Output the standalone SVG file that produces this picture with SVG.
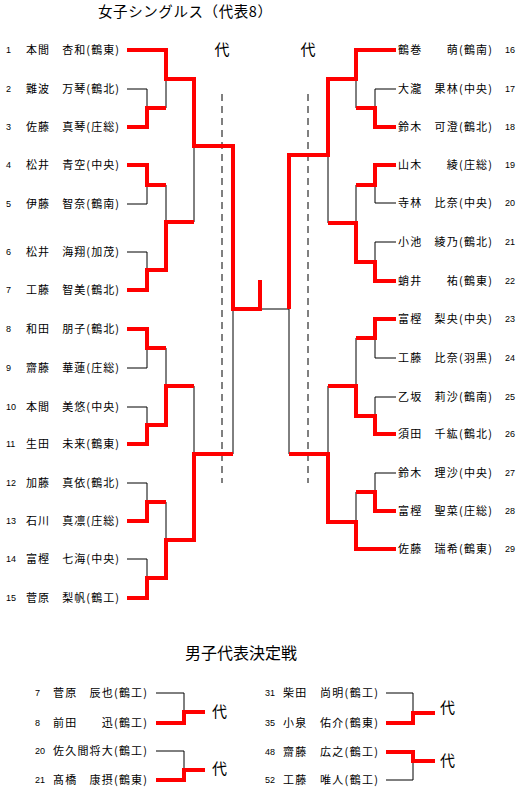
<svg xmlns="http://www.w3.org/2000/svg" width="522" height="796" viewBox="0 0 522 796">
<style>
.bg{fill:#ffffff}
.nm{font-family:"Noto Sans CJK JP","Noto Sans CJK SC",sans-serif;font-size:11px;fill:#000}
.no{font-family:"Liberation Sans",Arial,sans-serif;font-size:9px;fill:#000}
.ttl{font-family:"Noto Sans CJK JP","Noto Sans CJK SC",sans-serif;font-size:14.5px;fill:#000}
.ttl2{font-family:"Noto Sans CJK JP","Noto Sans CJK SC",sans-serif;font-size:16px;fill:#000}
.dai{font-family:"Noto Sans CJK JP","Noto Sans CJK SC",sans-serif;font-size:15px;fill:#000}
.r{fill:none;stroke:#ff0000;stroke-width:4;stroke-linejoin:miter;stroke-linecap:butt}
.k{fill:none;stroke:#000;stroke-width:1}
.d{fill:none;stroke:#000;stroke-width:1;stroke-dasharray:7 5}
</style>
<rect class="bg" x="0" y="0" width="522" height="796"/>
<text class="ttl" x="98" y="17" textLength="174" lengthAdjust="spacing">女子シングルス（代表8）</text>
<text class="dai" x="214.5" y="54.5">代</text>
<text class="dai" x="300.5" y="54.5">代</text>

<g id="connectors">
  <path class="d" d="M222,94 V483 M308,94 V483"/>
  <path class="k" d="M127,89 H147 V108 M127,204 H147 V185 M127,252 H147 V270 M127,368 H147 V348 M127,407 H147 V425 M127,483 H147 V502 M127,559 H147 V578 M166,79 V108 M166,185 V222 M166,348 V386 M166,502 V540 M194,146 V222 M194,386 V454 M233,309 V454 M260,309 H289"/>
  <path class="k" d="M396,89 H375 V108 M396,203 H375 V185 M396,242 H375 V262 M396,358 H375 V338 M396,397 H375 V416 M396,473 H375 V492 M356,79 V108 M356,185 V223 M356,338 V386 M356,492 V522 M328,155 V223 M328,386 V454 M289,309 V454"/>
  <path class="r" d="M127,50 H166 V79 H194 V146 H233 V309 H260 V280"/>
  <path class="r" d="M127,127 H147 V108 H166"/>
  <path class="r" d="M127,165 H147 V185 H166"/>
  <path class="r" d="M127,290 H147 V270 H166 V222 H194"/>
  <path class="r" d="M127,329 H147 V348 H166"/>
  <path class="r" d="M127,444 H147 V425 H166 V386 H194"/>
  <path class="r" d="M127,521 H147 V502 H166"/>
  <path class="r" d="M127,598 H147 V578 H166 V540 H194 V454 H233"/>
  <path class="r" d="M396,50 H356 V79 H328 V155 H289 V309"/>
  <path class="r" d="M396,127 H375 V108 H356"/>
  <path class="r" d="M396,165 H375 V185 H356"/>
  <path class="r" d="M396,281 H375 V262 H356 V223 H328"/>
  <path class="r" d="M396,319 H375 V338 H356"/>
  <path class="r" d="M396,434 H375 V416 H356 V386 H328"/>
  <path class="r" d="M396,511 H375 V492 H356"/>
  <path class="r" d="M396,549 H356 V522 H328 V454 H289"/>
  <path class="k" d="M156,693 H184 V712 M156,751 H184 V770 M386,693 H413 V713 M386,780 H413 V761"/>
  <path class="r" d="M156,723 H184 V712 H205"/>
  <path class="r" d="M156,780 H184 V770 H205"/>
  <path class="r" d="M386,723 H413 V713 H435"/>
  <path class="r" d="M386,752 H413 V761 H435"/>
</g>

<g id="p1"><text class="no" x="6" y="53">1</text><text class="nm" x="26" y="54" textLength="93" lengthAdjust="spacing">本間　杏和(鶴東)</text></g>
<g id="p2"><text class="no" x="6" y="92">2</text><text class="nm" x="26" y="93" textLength="93" lengthAdjust="spacing">難波　万琴(鶴北)</text></g>
<g id="p3"><text class="no" x="6" y="130">3</text><text class="nm" x="26" y="131" textLength="93" lengthAdjust="spacing">佐藤　真琴(庄総)</text></g>
<g id="p4"><text class="no" x="6" y="168">4</text><text class="nm" x="26" y="169" textLength="93" lengthAdjust="spacing">松井　青空(中央)</text></g>
<g id="p5"><text class="no" x="6" y="207">5</text><text class="nm" x="26" y="208" textLength="93" lengthAdjust="spacing">伊藤　智奈(鶴南)</text></g>
<g id="p6"><text class="no" x="6" y="255">6</text><text class="nm" x="26" y="256" textLength="93" lengthAdjust="spacing">松井　海翔(加茂)</text></g>
<g id="p7"><text class="no" x="6" y="293">7</text><text class="nm" x="26" y="294" textLength="93" lengthAdjust="spacing">工藤　智美(鶴北)</text></g>
<g id="p8"><text class="no" x="6" y="332">8</text><text class="nm" x="26" y="333" textLength="93" lengthAdjust="spacing">和田　朋子(鶴北)</text></g>
<g id="p9"><text class="no" x="6" y="371">9</text><text class="nm" x="26" y="372" textLength="93" lengthAdjust="spacing">齋藤　華蓮(庄総)</text></g>
<g id="p10"><text class="no" x="6" y="410">10</text><text class="nm" x="26" y="411" textLength="93" lengthAdjust="spacing">本間　美悠(中央)</text></g>
<g id="p11"><text class="no" x="6" y="447">11</text><text class="nm" x="26" y="448" textLength="93" lengthAdjust="spacing">生田　未来(鶴東)</text></g>
<g id="p12"><text class="no" x="6" y="486">12</text><text class="nm" x="26" y="487" textLength="93" lengthAdjust="spacing">加藤　真依(鶴北)</text></g>
<g id="p13"><text class="no" x="6" y="524">13</text><text class="nm" x="26" y="525" textLength="93" lengthAdjust="spacing">石川　真凛(庄総)</text></g>
<g id="p14"><text class="no" x="6" y="562">14</text><text class="nm" x="26" y="563" textLength="93" lengthAdjust="spacing">富樫　七海(中央)</text></g>
<g id="p15"><text class="no" x="6" y="601">15</text><text class="nm" x="26" y="602" textLength="93" lengthAdjust="spacing">菅原　梨帆(鶴工)</text></g>

<g id="p16"><text class="nm" x="398" y="54" textLength="94" lengthAdjust="spacing">鶴巻　　萌(鶴南)</text><text class="no" x="505" y="53">16</text></g>
<g id="p17"><text class="nm" x="398" y="93" textLength="94" lengthAdjust="spacing">大瀧　果林(中央)</text><text class="no" x="505" y="92">17</text></g>
<g id="p18"><text class="nm" x="398" y="131" textLength="94" lengthAdjust="spacing">鈴木　可澄(鶴北)</text><text class="no" x="505" y="130">18</text></g>
<g id="p19"><text class="nm" x="398" y="169" textLength="94" lengthAdjust="spacing">山木　　綾(庄総)</text><text class="no" x="505" y="168">19</text></g>
<g id="p20"><text class="nm" x="398" y="207" textLength="94" lengthAdjust="spacing">寺林　比奈(中央)</text><text class="no" x="505" y="206">20</text></g>
<g id="p21"><text class="nm" x="398" y="246" textLength="94" lengthAdjust="spacing">小池　綾乃(鶴北)</text><text class="no" x="505" y="245">21</text></g>
<g id="p22"><text class="nm" x="398" y="285" textLength="94" lengthAdjust="spacing">蛸井　　祐(鶴東)</text><text class="no" x="505" y="284">22</text></g>
<g id="p23"><text class="nm" x="398" y="323" textLength="94" lengthAdjust="spacing">富樫　梨央(中央)</text><text class="no" x="505" y="322">23</text></g>
<g id="p24"><text class="nm" x="398" y="362" textLength="94" lengthAdjust="spacing">工藤　比奈(羽黒)</text><text class="no" x="505" y="361">24</text></g>
<g id="p25"><text class="nm" x="398" y="401" textLength="94" lengthAdjust="spacing">乙坂　莉沙(鶴南)</text><text class="no" x="505" y="400">25</text></g>
<g id="p26"><text class="nm" x="398" y="438" textLength="94" lengthAdjust="spacing">須田　千紘(鶴北)</text><text class="no" x="505" y="437">26</text></g>
<g id="p27"><text class="nm" x="398" y="477" textLength="94" lengthAdjust="spacing">鈴木　理沙(中央)</text><text class="no" x="505" y="476">27</text></g>
<g id="p28"><text class="nm" x="398" y="515" textLength="94" lengthAdjust="spacing">富樫　聖菜(庄総)</text><text class="no" x="505" y="514">28</text></g>
<g id="p29"><text class="nm" x="398" y="553" textLength="94" lengthAdjust="spacing">佐藤　瑞希(鶴東)</text><text class="no" x="505" y="552">29</text></g>

<text class="ttl2" x="185" y="659">男子代表決定戦</text>
<g id="b7"><text class="no" x="35" y="696">7</text><text class="nm" x="53" y="697" textLength="94" lengthAdjust="spacing">菅原　辰也(鶴工)</text></g>
<g id="b8"><text class="no" x="35" y="726">8</text><text class="nm" x="53" y="727" textLength="94" lengthAdjust="spacing">前田　　迅(鶴工)</text></g>
<g id="b20"><text class="no" x="35" y="754">20</text><text class="nm" x="53" y="755" textLength="94" lengthAdjust="spacing">佐久間将大(鶴工)</text></g>
<g id="b21"><text class="no" x="35" y="783">21</text><text class="nm" x="53" y="784" textLength="94" lengthAdjust="spacing">髙橋　康摂(鶴東)</text></g>
<g id="b31"><text class="no" x="265" y="696">31</text><text class="nm" x="283" y="697" textLength="95" lengthAdjust="spacing">柴田　尚明(鶴工)</text></g>
<g id="b35"><text class="no" x="265" y="726">35</text><text class="nm" x="283" y="727" textLength="95" lengthAdjust="spacing">小泉　佑介(鶴東)</text></g>
<g id="b48"><text class="no" x="265" y="755">48</text><text class="nm" x="283" y="756" textLength="95" lengthAdjust="spacing">齋藤　広之(鶴工)</text></g>
<g id="b52"><text class="no" x="265" y="783">52</text><text class="nm" x="283" y="784" textLength="95" lengthAdjust="spacing">工藤　唯人(鶴工)</text></g>
<g id="d1"><text class="dai" x="212" y="717">代</text></g>
<g id="d2"><text class="dai" x="212" y="774">代</text></g>
<g id="d3"><text class="dai" x="440" y="713">代</text></g>
<g id="d4"><text class="dai" x="440" y="766">代</text></g>
</svg>
